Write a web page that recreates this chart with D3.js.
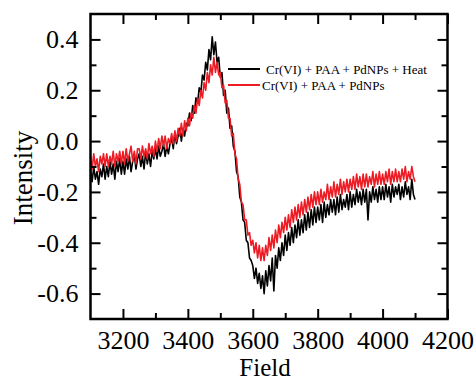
<!DOCTYPE html>
<html>
<head>
<meta charset="utf-8">
<script src="https://cdn.jsdelivr.net/npm/d3@7"></script>
<style>
  html, body { margin: 0; padding: 0; background: #fff; }
  svg { display: block; }
  svg text { font-family: 'Liberation Serif', 'DejaVu Serif', serif; }
</style>
</head>
<body>
<svg id="chart" width="476" height="381"></svg>
<script>
// sampling grid of the spectrum (5 G step)
const field = d3.range(3100, 4101, 5);

// Cr(VI) + PAA + PdNPs + Heat
const heat = [
  -0.11, -0.16, -0.10, -0.15, -0.12, -0.17, -0.11, -0.14, -0.09, -0.15,
  -0.10, -0.14, -0.08, -0.13, -0.09, -0.15, -0.08, -0.12, -0.07, -0.13,
  -0.08, -0.13, -0.07, -0.11, -0.06, -0.12, -0.08, -0.05, -0.11, -0.07,
  -0.05, -0.10, -0.06, -0.11, -0.04, -0.09, -0.05, -0.10, -0.04, -0.07,
  -0.03, -0.07, -0.02, -0.06, -0.04, -0.01, -0.06, -0.02, -0.05, -0.01,
  0.01, -0.03, 0.03, -0.01, 0.02, 0.05, 0.00, 0.05, 0.02, 0.07,
  0.06, 0.11, 0.08, 0.14, 0.11, 0.17, 0.15, 0.21, 0.19, 0.26,
  0.24, 0.31, 0.28, 0.36, 0.32, 0.41, 0.34, 0.39, 0.31, 0.33,
  0.25, 0.27, 0.18, 0.20, 0.11, 0.13, 0.05, 0.06, -0.02, -0.04,
  -0.12, -0.14, -0.22, -0.24, -0.31, -0.32, -0.39, -0.40, -0.46, -0.47,
  -0.49, -0.54, -0.50, -0.56, -0.52, -0.58, -0.53, -0.60, -0.51, -0.57,
  -0.49, -0.55, -0.46, -0.59, -0.45, -0.50, -0.42, -0.47, -0.40, -0.45,
  -0.37, -0.43, -0.36, -0.41, -0.34, -0.40, -0.33, -0.38, -0.31, -0.37,
  -0.31, -0.36, -0.29, -0.35, -0.28, -0.34, -0.27, -0.33, -0.26, -0.32,
  -0.26, -0.31, -0.25, -0.32, -0.24, -0.30, -0.25, -0.29, -0.23, -0.28,
  -0.23, -0.29, -0.22, -0.28, -0.21, -0.27, -0.23, -0.26, -0.21, -0.27,
  -0.20, -0.26, -0.21, -0.25, -0.19, -0.24, -0.20, -0.25, -0.19, -0.24,
  -0.19, -0.31, -0.20, -0.24, -0.18, -0.23, -0.19, -0.24, -0.18, -0.23,
  -0.18, -0.23, -0.17, -0.22, -0.18, -0.24, -0.17, -0.22, -0.18, -0.21,
  -0.17, -0.23, -0.18, -0.22, -0.16, -0.21, -0.18, -0.23, -0.15, -0.21,
  -0.23
];

// Cr(VI) + PAA + PdNPs
const noHeat = [
  -0.06, -0.11, -0.05, -0.10, -0.07, -0.12, -0.06, -0.09, -0.05, -0.10,
  -0.05, -0.10, -0.06, -0.09, -0.04, -0.10, -0.05, -0.08, -0.04, -0.09,
  -0.04, -0.09, -0.03, -0.08, -0.05, -0.02, -0.08, -0.04, -0.09, -0.03,
  -0.03, -0.07, -0.02, -0.06, -0.03, -0.07, -0.01, -0.05, -0.02, -0.06,
  0.00, -0.04, 0.01, -0.03, 0.02, -0.02, 0.02, -0.03, 0.01, -0.01,
  0.03, -0.01, 0.04, 0.00, 0.05, 0.02, 0.07, 0.02, 0.08, 0.04,
  0.09, 0.06, 0.11, 0.09, 0.14, 0.11, 0.17, 0.14, 0.20, 0.17,
  0.23, 0.20, 0.27, 0.23, 0.30, 0.26, 0.33, 0.27, 0.31, 0.26,
  0.27, 0.21, 0.22, 0.15, 0.16, 0.09, 0.09, 0.02, 0.03, -0.05,
  -0.07, -0.15, -0.17, -0.24, -0.25, -0.31, -0.31, -0.37, -0.36, -0.41,
  -0.39, -0.44, -0.40, -0.46, -0.41, -0.47, -0.42, -0.47, -0.41, -0.45,
  -0.38, -0.43, -0.37, -0.42, -0.35, -0.40, -0.33, -0.38, -0.32, -0.36,
  -0.30, -0.35, -0.29, -0.34, -0.27, -0.32, -0.26, -0.31, -0.25, -0.30,
  -0.24, -0.29, -0.23, -0.28, -0.22, -0.27, -0.21, -0.26, -0.20, -0.25,
  -0.20, -0.25, -0.19, -0.24, -0.20, -0.23, -0.17, -0.23, -0.18, -0.22,
  -0.16, -0.22, -0.17, -0.21, -0.15, -0.21, -0.16, -0.20, -0.15, -0.20,
  -0.15, -0.19, -0.14, -0.19, -0.13, -0.18, -0.14, -0.19, -0.13, -0.18,
  -0.13, -0.18, -0.14, -0.17, -0.12, -0.18, -0.13, -0.17, -0.12, -0.17,
  -0.13, -0.17, -0.12, -0.16, -0.11, -0.17, -0.12, -0.16, -0.11, -0.16,
  -0.12, -0.16, -0.11, -0.15, -0.10, -0.16, -0.12, -0.15, -0.10, -0.14,
  -0.16
];

const xMajor = [3200, 3400, 3600, 3800, 4000, 4200];
const xMinor = [3300, 3500, 3700, 3900, 4100];
const yMajor = [-0.6, -0.4, -0.2, 0.0, 0.2, 0.4];
const yMinor = [-0.5, -0.3, -0.1, 0.1, 0.3];

const seriesNames = ['Cr(VI) + PAA + PdNPs + Heat', 'Cr(VI) + PAA + PdNPs'];
const seriesColors = ['#000000', '#ed1c24'];

const plotLeft = 90.5, plotRight = 447.5, plotTop = 14, plotBottom = 319;

const svg = d3.select('#chart');

const x = d3.scaleLinear().domain([3100, 4200]).range([plotLeft, plotRight]);
const y = d3.scaleLinear().domain([-0.7, 0.5]).range([plotBottom, plotTop]);

// lines (black below, red on top)
const line = d3.line()
  .x((d, i) => x(field[i]))
  .y(d => y(d));

[heat, noHeat].forEach((values, k) => {
  svg.append('path')
    .datum(values)
    .attr('fill', 'none')
    .attr('stroke', seriesColors[k])
    .attr('stroke-width', 1.6)
    .attr('stroke-linejoin', 'round')
    .attr('d', line);
});

// axes, ticks pointing inward on all four sides
function styleAxis(g) {
  g.select('.domain').remove();
  g.selectAll('line').attr('stroke', '#000').attr('stroke-width', 2);
  g.attr('font-family', null).attr('font-size', 26);
  g.selectAll('text').attr('fill', '#000');
}

svg.append('g')
  .attr('transform', `translate(0,${plotBottom})`)
  .call(d3.axisBottom(x).tickValues(xMajor).tickSize(-10).tickPadding(12).tickFormat(d3.format('d')))
  .call(styleAxis);
svg.append('g')
  .attr('transform', `translate(0,${plotBottom})`)
  .call(d3.axisBottom(x).tickValues(xMinor).tickSize(-6).tickFormat(''))
  .call(styleAxis);
svg.append('g')
  .attr('transform', `translate(0,${plotTop})`)
  .call(d3.axisTop(x).tickValues(xMajor).tickSize(-10).tickFormat(''))
  .call(styleAxis);
svg.append('g')
  .attr('transform', `translate(0,${plotTop})`)
  .call(d3.axisTop(x).tickValues(xMinor).tickSize(-6).tickFormat(''))
  .call(styleAxis);

svg.append('g')
  .attr('transform', `translate(${plotLeft},0)`)
  .call(d3.axisLeft(y).tickValues(yMajor).tickSize(-10).tickPadding(12).tickFormat(d => d.toFixed(1)))
  .call(styleAxis);
svg.append('g')
  .attr('transform', `translate(${plotLeft},0)`)
  .call(d3.axisLeft(y).tickValues(yMinor).tickSize(-6).tickFormat(''))
  .call(styleAxis);
svg.append('g')
  .attr('transform', `translate(${plotRight},0)`)
  .call(d3.axisRight(y).tickValues(yMajor).tickSize(-10).tickFormat(''))
  .call(styleAxis);
svg.append('g')
  .attr('transform', `translate(${plotRight},0)`)
  .call(d3.axisRight(y).tickValues(yMinor).tickSize(-6).tickFormat(''))
  .call(styleAxis);

// frame
svg.append('rect')
  .attr('x', plotLeft).attr('y', plotTop)
  .attr('width', plotRight - plotLeft).attr('height', plotBottom - plotTop)
  .attr('fill', 'none')
  .attr('stroke', '#000')
  .attr('stroke-width', 2.5);

// axis titles
svg.append('text')
  .attr('x', (plotLeft + plotRight) / 2 - 4)
  .attr('y', 376)
  .attr('text-anchor', 'middle')
  .attr('font-size', 25)
  .text('Field');

svg.append('text')
  .attr('transform', 'translate(32,178) rotate(-90)')
  .attr('text-anchor', 'middle')
  .attr('font-size', 27)
  .text('Intensity');

// legend
const legend = svg.append('g');
const legendRows = [
  { y: 69, lx: 266 },
  { y: 85, lx: 262 }
];
legendRows.forEach((r, k) => {
  legend.append('line')
    .attr('x1', 228).attr('x2', 260)
    .attr('y1', r.y).attr('y2', r.y)
    .attr('stroke', seriesColors[k])
    .attr('stroke-width', 2);
  legend.append('text')
    .attr('x', r.lx)
    .attr('y', r.y + 4.5)
    .attr('font-size', 13)
    .text(seriesNames[k]);
});
</script>
</body>
</html>
